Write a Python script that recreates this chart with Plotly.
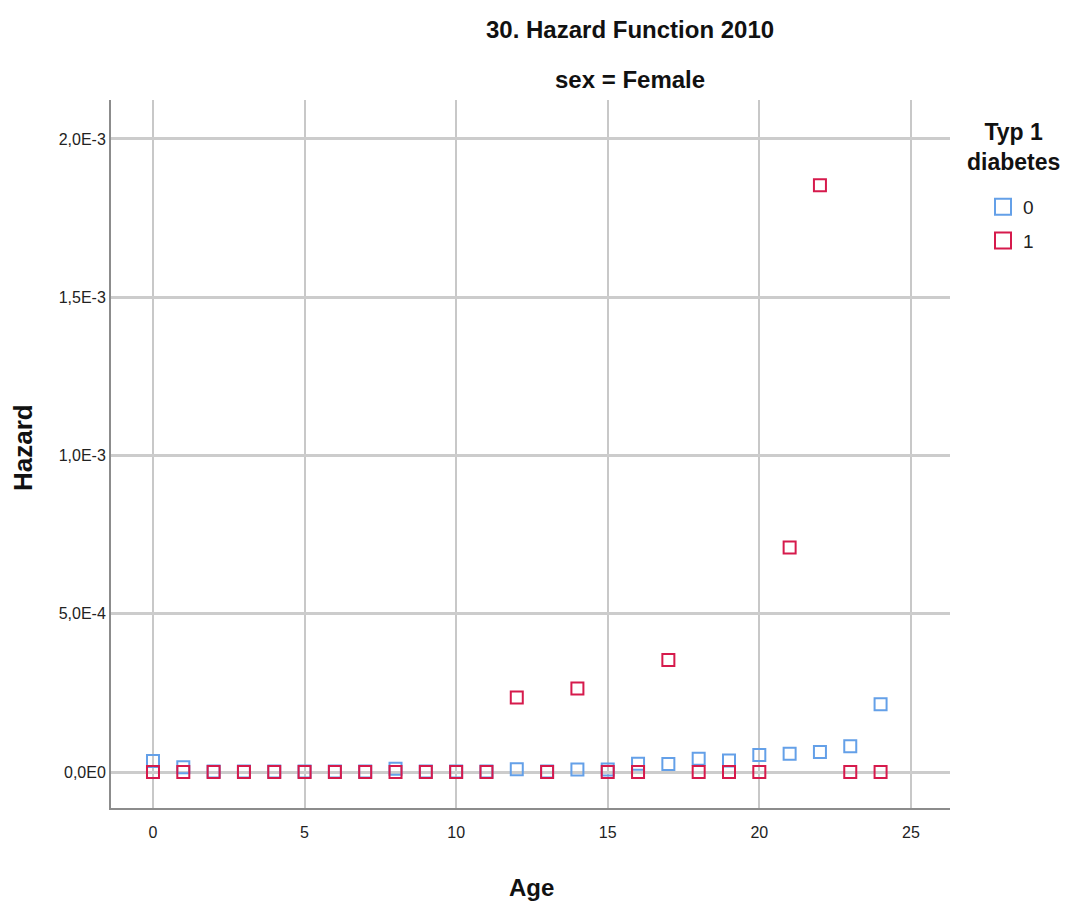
import plotly.graph_objects as go

ages = list(range(25))
hazard_type0 = [3.5e-5, 1.5e-5, 2e-6, 2e-6, 2e-6, 2e-6, 2e-6, 2e-6, 1e-5, 2e-6, 2e-6, 2e-6,
                9e-6, 2e-6, 8e-6, 8e-6, 2.6e-5, 2.5e-5, 4.2e-5, 3.6e-5, 5.4e-5, 5.8e-5, 6.3e-5, 8.1e-5, 2.14e-4]
hazard_type1 = [0, 0, 0, 0, 0, 0, 0, 0, 0, 0, 0, 0,
                2.35e-4, 0, 2.64e-4, 0, 0, 3.54e-4, 0, 0, 0, 7.09e-4, 1.854e-3, 0, 0]
groups = ["0", "1"]

y_tickvals = [0, 5e-4, 1e-3, 1.5e-3, 2e-3]
y_ticktext = ["0,0E0", "5,0E-4", "1,0E-3", "1,5E-3", "2,0E-3"]
x_tickvals = [0, 5, 10, 15, 20, 25]

FONT = "Liberation Sans, Arial, sans-serif"
BLUE = "#64a0e8"
RED = "#d61a4c"
COLORS = [BLUE, RED]

W, H = 1067, 905

fig = go.Figure()
for name, vals, col in zip(groups, [hazard_type0, hazard_type1], COLORS):
    fig.add_trace(go.Scatter(x=ages, y=vals, mode="markers", name=name, showlegend=False,
                             legendgroup=name,
                             marker=dict(symbol="square-open", size=12, color=col, line=dict(width=2))))
# legend-only entries with larger symbols
for name, col in zip(groups, COLORS):
    fig.add_trace(go.Scatter(x=[None], y=[None], mode="markers", name=name, legendgroup=name,
                             marker=dict(symbol="square-open", size=16, color=col, line=dict(width=2))))

def px_x(px):
    return (px - 111) / (950 - 111)
def px_y(py):
    return (808 - py) / (808 - 100)

fig.update_layout(
    width=W, height=H,
    margin=dict(l=111, r=117, t=100, b=97),
    paper_bgcolor="white", plot_bgcolor="white",
    font=dict(family=FONT, color="#222"),
    showlegend=True,
    legend=dict(xref="container", yref="container", x=983 / W, y=1 - 188 / H,
                xanchor="left", yanchor="top",
                font=dict(size=19, color="#222"), itemwidth=30, tracegroupgap=6,
                itemsizing="trace", bgcolor="rgba(0,0,0,0)"),
    annotations=[
        dict(text="<b>30. Hazard Function 2010</b>", x=px_x(630), y=px_y(30), xref="paper", yref="paper",
             yanchor="middle", showarrow=False, font=dict(size=24, color="#111")),
        dict(text="<b>sex = Female</b>", x=px_x(630), y=px_y(80), xref="paper", yref="paper",
             yanchor="middle", showarrow=False, font=dict(size=24, color="#111")),
        dict(text="<b>Age</b>", x=px_x(531), y=px_y(887), xref="paper", yref="paper",
             yanchor="middle", showarrow=False, font=dict(size=24, color="#111")),
        dict(text="<b>Hazard</b>", x=px_x(23), y=px_y(448), xref="paper", yref="paper",
             xanchor="center", yanchor="middle", textangle=-90, showarrow=False,
             font=dict(size=26, color="#111")),
        dict(text="<b>Typ 1<br>diabetes</b>", x=px_x(1013), y=px_y(147), xref="paper", yref="paper",
             xanchor="center", yanchor="middle", align="center", showarrow=False,
             font=dict(size=23, color="#111")),
    ],
)

fig.update_xaxes(range=[-1.385, 26.29], tickvals=x_tickvals, showgrid=True, gridcolor="#c8c8c8",
                 gridwidth=1.5, zeroline=False, showline=True, linecolor="#8c8c8c", linewidth=2,
                 ticks="", ticklabelstandoff=9, tickfont=dict(size=16, color="#222"))
fig.update_yaxes(range=[-1.137e-4, 2.123e-3], tickvals=y_tickvals, ticktext=y_ticktext,
                 showgrid=True, gridcolor="#cccccc", gridwidth=2.5, zeroline=False,
                 showline=True, linecolor="#8c8c8c", linewidth=2, ticks="",
                 tickfont=dict(size=16, color="#222"))

fig.write_html("out.html")
